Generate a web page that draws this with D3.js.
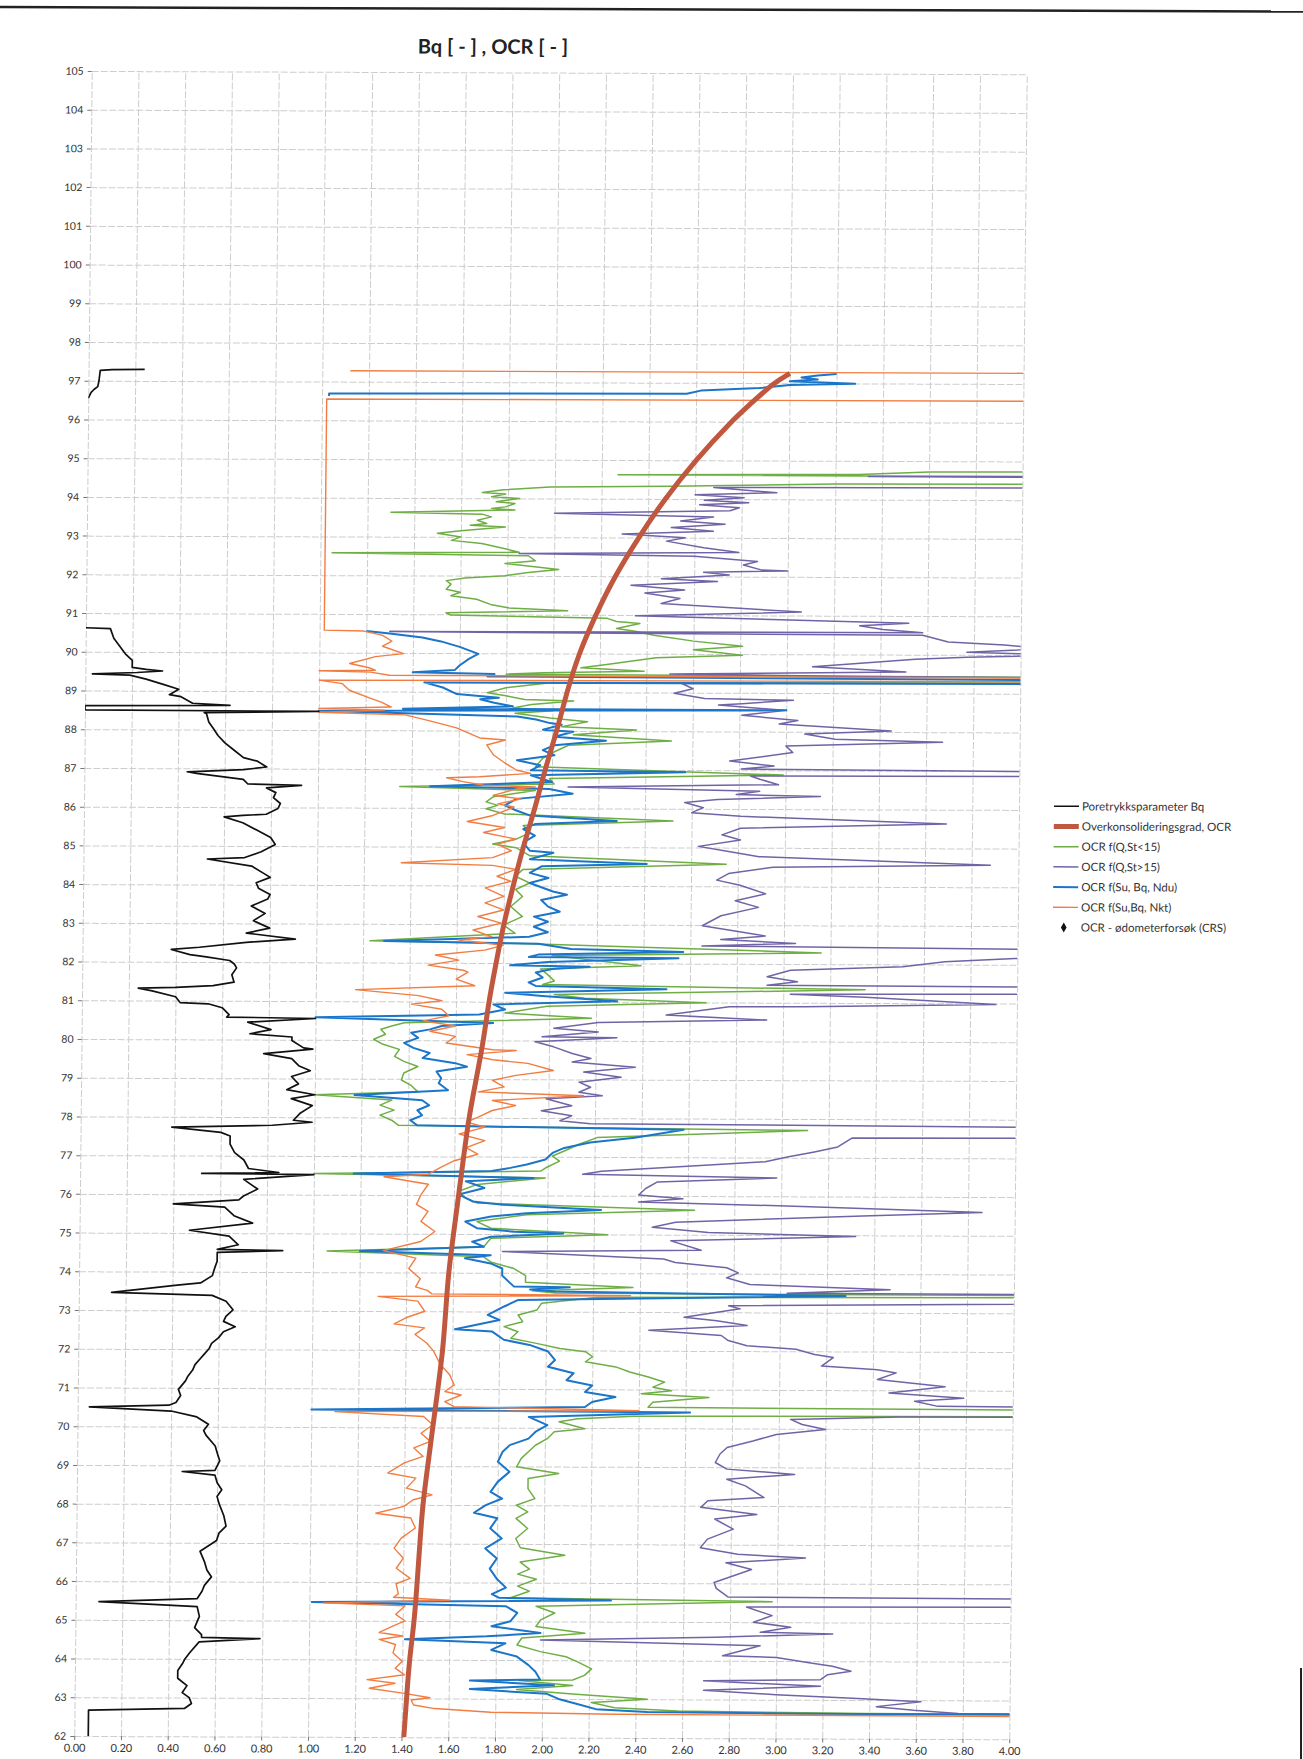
<!DOCTYPE html>
<html>
<head>
<meta charset="utf-8">
<script src="https://cdn.jsdelivr.net/npm/d3@7"></script>
<style>
  body { margin: 0; background: #fff; }
  text { font-family: Lato, "Open Sans", sans-serif; fill: #333; }
  .grid line { stroke: #cdcdcd; stroke-dasharray: 7,2; }
  .grid path { display: none; }
  .axis path { display: none; }
  .axis line { stroke: #777; }
  .axis text { font-size: 11px; fill: #333; }
  .yaxis text { font-size: 10.5px; }
</style>
</head>
<body>
<div id="chart"></div>
<script>
// ---- chart values (elevation [m], value) ; null = gap in the series ----
var titleText = "Bq [ - ] , OCR [ - ]";

var yTicks = [62,63,64,65,66,67,68,69,70,71,72,73,74,75,76,77,78,79,80,81,82,83,
  84,85,86,87,88,89,90,91,92,93,94,95,96,97,98,99,100,101,102,103,104,105];
var xTicks = [0,0.2,0.4,0.6,0.8,1.0,1.2,1.4,1.6,1.8,2.0,2.2,2.4,2.6,2.8,3.0,3.2,3.4,3.6,3.8,4.0];

var legendLabels = ["Poretrykksparameter Bq", "Overkonsolideringsgrad, OCR", "OCR f(Q,St<15)",
  "OCR f(Q,St>15)", "OCR f(Su, Bq, Ndu)", "OCR f(Su,Bq, Nkt)", "OCR - ødometerforsøk (CRS)"];

// Poretrykksparameter Bq
var bqData = [
  [97.30,0.24],[97.29,0.10],[97.27,0.05],[97.00,0.045],[96.85,0.04],[96.78,0.025],[96.70,0.012],[96.55,0.0],
  null,
  [90.62,0.0],[90.60,0.105],[90.35,0.12],[90.15,0.145],[89.95,0.17],[89.78,0.20],[89.60,0.20],[89.55,0.26],
  [89.51,0.33],[89.47,0.22],[89.43,0.03],[89.40,0.19],[89.30,0.26],[89.17,0.33],[89.04,0.40],[88.90,0.36],
  [88.85,0.41],[88.68,0.46],[88.63,0.62],[88.61,0.0],[88.50,0.0],[88.48,1.0],[88.44,0.51],[88.41,0.52],
  [88.20,0.53],[88.03,0.55],[87.85,0.57],[87.66,0.60],[87.47,0.64],[87.28,0.68],[87.19,0.74],[87.04,0.78],
  [86.97,0.68],[86.91,0.44],[86.87,0.48],[86.72,0.68],[86.60,0.70],[86.57,0.93],[86.50,0.78],[86.38,0.82],
  [86.25,0.81],[86.10,0.84],[85.97,0.83],[85.82,0.78],[85.79,0.68],[85.75,0.60],[85.60,0.68],[85.41,0.74],
  [85.22,0.80],[85.04,0.82],[84.85,0.76],[84.70,0.69],[84.66,0.53],[84.48,0.72],[84.30,0.77],[84.19,0.80],
  [84.05,0.74],[83.91,0.75],[83.75,0.80],[83.63,0.79],[83.45,0.72],[83.26,0.78],[83.07,0.73],[82.88,0.80],
  [82.75,0.70],[82.60,0.91],[82.51,0.70],[82.38,0.50],[82.32,0.38],[82.19,0.46],[82.13,0.53],[82.04,0.63],
  [81.95,0.65],[81.85,0.66],[81.67,0.64],[81.48,0.65],[81.39,0.56],[81.34,0.40],[81.32,0.24],[81.25,0.30],
  [81.10,0.40],[80.95,0.42],[80.92,0.54],[80.82,0.60],[80.64,0.63],[80.58,0.62],[80.55,1.0],[80.45,0.71],
  [80.26,0.81],[80.15,0.72],[80.07,0.90],[79.98,0.90],[79.79,0.95],[79.76,0.99],[79.64,0.78],[79.51,0.90],
  [79.33,0.93],[79.20,0.98],[79.05,0.90],[78.86,0.93],[78.71,0.88],[78.58,1.0],[78.48,0.90],[78.30,0.99],
  [78.11,0.94],[77.92,0.91],[77.87,0.99],[77.79,0.82],[77.73,0.39],[77.60,0.60],[77.51,0.64],[77.30,0.64],
  [77.08,0.66],[76.89,0.70],[76.67,0.72],[76.57,0.85],[76.54,0.52],[76.52,1.0],[76.39,0.70],[76.14,0.76],
  [75.96,0.70],[75.86,0.68],[75.75,0.40],[75.67,0.62],[75.45,0.66],[75.26,0.74],[75.07,0.47],[74.92,0.64],
  [74.70,0.68],[74.58,0.59],[74.55,0.87],[74.50,0.59],[74.27,0.59],[74.10,0.58],[73.90,0.57],[73.71,0.52],
  [73.65,0.42],[73.46,0.14],[73.39,0.57],[73.24,0.63],[73.02,0.66],[72.85,0.63],[72.72,0.62],[72.58,0.67],
  [72.45,0.62],[72.30,0.60],[72.15,0.57],[72.02,0.56],[71.88,0.54],[71.74,0.52],[71.60,0.50],[71.46,0.49],
  [71.30,0.47],[71.18,0.46],[70.96,0.43],[70.80,0.44],[70.62,0.42],[70.55,0.39],[70.50,0.05],[70.40,0.40],
  [70.25,0.51],[70.06,0.56],[69.90,0.54],[69.78,0.55],[69.50,0.59],[69.30,0.60],[69.12,0.61],[68.87,0.59],
  [68.84,0.45],[68.75,0.59],[68.55,0.60],[68.37,0.62],[68.20,0.60],[68.00,0.61],[67.70,0.63],[67.43,0.64],
  [67.25,0.61],[67.06,0.60],[66.78,0.53],[66.50,0.55],[66.30,0.56],[66.12,0.58],[65.90,0.55],[65.75,0.54],
  [65.56,0.52],[65.47,0.10],[65.35,0.52],[65.10,0.53],[64.81,0.51],[64.63,0.54],[64.56,0.54],[64.53,0.79],
  [64.44,0.53],[64.16,0.49],[64.00,0.47],[63.88,0.46],[63.70,0.44],[63.50,0.44],[63.31,0.48],[63.13,0.46],
  [63.00,0.49],[62.85,0.50],[62.72,0.47],[62.67,0.06],[62.00,0.06]
];

// Overkonsolideringsgrad, OCR
var ocrData = [
  [97.25,3.00],[97.0,2.93],[96.5,2.84],[96.0,2.75],[95.0,2.60],[94.0,2.47],[93.0,2.36],[92.0,2.26],
  [91.0,2.18],[90.0,2.11],[89.0,2.06],[88.0,2.02],[87.0,1.97],[86.0,1.93],[85.0,1.88],[84.0,1.84],
  [83.0,1.80],[82.0,1.77],[81.0,1.74],[80.0,1.72],[79.0,1.69],[78.0,1.66],[77.0,1.64],[76.0,1.62],
  [75.0,1.60],[74.0,1.58],[73.0,1.57],[72.0,1.56],[71.0,1.54],[70.0,1.52],[69.0,1.50],[68.0,1.48],
  [67.0,1.47],[66.0,1.46],[65.0,1.45],[64.0,1.43],[63.0,1.42],[62.0,1.41]
];

// OCR f(Q,St<15)
var stLowData = [
  [94.80,7],[94.72,3.6],[94.65,3.3],[94.62,2.27],[94.58,7],[94.45,7],[94.40,3.2],[94.33,2.5],[94.30,1.98],
  [94.22,1.78],[94.15,1.69],[94.11,1.79],[94.04,1.73],[94.00,1.85],[93.91,1.75],[93.87,1.83],[93.78,1.79],
  [93.74,1.73],[93.70,1.83],[93.63,1.30],[93.59,1.69],[93.52,1.73],[93.43,1.67],[93.35,1.71],[93.30,1.64],
  [93.26,1.79],[93.16,1.60],[93.09,1.50],[93.00,1.60],[92.91,1.56],[92.83,1.69],[92.70,1.79],[92.61,1.85],
  [92.58,1.05],[92.52,1.89],[92.39,1.92],[92.32,1.79],[92.17,2.02],[92.09,1.89],[92.00,1.79],[91.94,1.62],
  [91.87,1.54],[91.78,1.56],[91.65,1.54],[91.57,1.60],[91.48,1.56],[91.39,1.67],[91.26,1.73],[91.17,1.81],
  [91.10,2.06],[91.04,1.54],[90.98,1.56],[90.91,2.23],[90.83,2.27],[90.78,2.37],[90.65,2.27],[90.58,2.35],
  [90.48,2.43],[90.33,2.60],[90.20,2.81],[90.11,2.60],[89.97,2.81],[89.90,2.44],[89.72,2.23],[89.63,2.12],
  [89.55,2.39],[89.50,1.96],[89.46,1.80],[89.38,7],[89.33,7],[89.24,1.99],[89.11,1.80],[88.98,1.72],
  [88.90,1.80],[88.81,1.88],[88.77,2.09],[88.68,1.91],[88.59,1.83],[88.52,2.00],[88.45,1.84],[88.33,1.99],
  [88.24,2.15],[88.11,2.04],[88.03,2.36],[87.90,2.09],[87.75,2.51],[87.63,2.07],[87.46,2.01],[87.29,1.96],
  [87.07,1.93],[86.88,2.99],[86.77,1.99],[86.63,2.01],[86.55,1.35],[86.46,1.93],[86.29,1.75],[86.16,1.72],
  [86.07,1.77],[85.98,1.72],[85.85,1.80],[85.68,2.52],[85.55,1.88],[85.37,1.91],[85.20,1.85],[85.07,1.75],
  [84.98,1.85],[84.77,1.91],[84.57,2.75],[84.42,1.88],[84.24,1.85],[84.07,1.91],[83.90,1.85],[83.72,1.88],
  [83.46,1.83],[83.20,1.88],[82.98,1.80],[82.77,1.85],[82.56,1.23],[82.50,1.91],[82.29,3.16],[82.20,2.01],
  [81.94,2.39],[81.85,1.96],[81.71,1.99],[81.54,2.02],[81.45,1.97],[81.34,3.35],[81.19,2.02],[81.10,2.15],
  [80.99,2.67],[80.89,1.99],[80.71,1.81],[80.58,2.18],[80.45,1.38],[80.37,1.33],[80.28,1.28],[80.15,1.30],
  [80.02,1.25],[79.89,1.29],[79.76,1.36],[79.58,1.34],[79.45,1.38],[79.32,1.44],[79.15,1.38],[78.97,1.37],
  [78.84,1.41],[78.67,1.44],[78.58,1.00],[78.45,1.33],[78.32,1.28],[78.19,1.34],[78.06,1.28],[77.93,1.33],
  [77.80,1.36],[77.70,3.11],[77.50,2.21],[77.32,2.13],[77.15,2.07],[77.02,2.02],[76.89,2.05],[76.71,1.99],
  [76.63,1.97],[76.55,1.00],[76.45,1.99],[76.28,1.70],[76.10,1.62],[75.93,1.65],[75.80,1.70],[75.63,2.63],
  [75.50,1.91],[75.32,1.70],[75.15,1.76],[74.99,2.26],[74.89,1.76],[74.67,1.73],[74.55,1.06],[74.41,1.73],
  [74.28,1.76],[74.11,1.86],[73.93,1.91],[73.76,1.91],[73.63,2.37],[73.54,1.94],[73.48,2.04],[73.43,7],
  [73.38,2.22],[73.22,1.98],[73.04,1.96],[72.91,1.88],[72.74,1.90],[72.61,1.82],[72.48,1.88],[72.31,1.85],
  [72.18,1.96],[72.05,2.06],[71.97,2.17],[71.84,2.20],[71.71,2.17],[71.58,2.30],[71.45,2.36],[71.32,2.44],
  [71.19,2.51],[71.06,2.46],[70.97,2.54],[70.89,2.41],[70.80,2.70],[70.67,2.46],[70.54,2.44],[70.43,7],
  [70.37,7],[70.31,2.38],[70.24,2.14],[70.16,2.06],[69.98,2.17],[69.90,2.04],[69.72,2.01],[69.55,1.96],
  [69.38,1.93],[69.21,1.90],[68.99,1.88],[68.82,2.06],[68.69,1.93],[68.43,1.93],[68.17,1.96],[68.00,1.88],
  [67.83,1.93],[67.66,1.88],[67.40,1.93],[67.14,1.88],[66.90,1.90],[66.71,2.09],[66.53,1.90],[66.35,1.94],
  [66.22,1.89],[66.09,1.97],[65.91,1.89],[65.78,1.94],[65.61,1.86],[65.53,2.98],[65.39,1.97],[65.22,2.05],
  [65.04,1.99],[64.87,1.97],[64.70,2.18],[64.57,1.91],[64.39,1.89],[64.22,1.99],[64.09,2.10],[63.96,2.15],
  [63.78,2.21],[63.61,2.18],[63.49,2.13],[63.47,1.90],[63.35,2.13],[63.24,1.89],[63.13,2.13],[63.00,2.45],
  [62.91,2.21],[62.78,2.31],[62.70,2.58],[62.65,3.38],[62.64,4.6]
];

// OCR f(Q,St>15)
var stHighData = [
  [94.66,7],[94.60,3.34],[94.55,7],[94.35,7],[94.30,2.68],[94.17,2.95],[94.11,2.60],[94.04,2.81],[93.97,2.64],
  [93.91,2.83],[93.85,2.62],[93.78,2.79],[93.70,2.75],[93.62,2.00],[93.54,2.68],[93.43,2.54],[93.35,2.73],
  [93.26,2.50],[93.17,2.68],[93.09,2.29],[93.00,2.56],[92.91,2.48],[92.74,2.64],[92.62,2.79],[92.58,1.85],
  [92.52,2.60],[92.39,2.87],[92.30,2.81],[92.17,2.89],[92.15,3.00],[92.11,2.64],[92.04,2.75],[91.94,2.46],
  [91.87,2.70],[91.77,2.33],[91.65,2.56],[91.57,2.39],[91.43,2.54],[91.30,2.46],[91.09,3.06],[90.98,2.35],
  [90.81,3.52],[90.74,3.31],[90.65,3.41],[90.57,3.58],[90.55,1.30],[90.50,3.58],[90.33,3.69],[90.26,3.93],
  [90.16,4.10],[90.07,3.77],[90.00,4.20],[89.94,3.77],[89.88,3.55],[89.68,3.11],[89.55,3.51],[89.48,2.50],
  [89.43,3.30],[89.39,7],[89.30,7],[89.24,2.55],[89.10,2.60],[88.98,2.52],[88.85,2.65],[88.81,3.03],
  [88.72,2.81],[88.68,2.71],[88.55,3.00],[88.42,2.81],[88.29,3.05],[88.20,2.97],[88.03,3.45],[87.94,3.08],
  [87.81,3.21],[87.74,3.67],[87.63,3.00],[87.46,3.03],[87.24,2.76],[87.11,2.95],[87.03,2.81],[86.90,7],
  [86.85,2.85],[86.77,2.89],[86.63,2.97],[86.55,2.07],[86.46,2.89],[86.37,2.79],[86.33,3.15],[86.24,2.71],
  [86.16,2.57],[86.03,2.65],[85.90,2.60],[85.81,2.81],[85.63,3.69],[85.50,2.81],[85.33,2.73],[85.20,2.81],
  [85.03,2.63],[84.90,2.76],[84.77,2.89],[84.57,3.88],[84.50,2.95],[84.33,2.76],[84.16,2.71],[84.03,2.81],
  [83.81,2.92],[83.63,2.79],[83.46,2.89],[83.24,2.73],[82.98,2.65],[82.85,2.79],[82.72,2.92],[82.63,2.73],
  [82.53,3.05],[82.46,2.65],[82.27,7],[82.20,7],[82.16,3.99],[82.07,3.69],[81.94,3.51],[81.84,3.03],
  [81.67,2.93],[81.54,3.06],[81.45,2.93],[81.36,7],[81.30,7],[81.22,3.03],[81.15,3.35],[80.97,3.91],
  [80.90,3.09],[80.89,2.77],[80.67,2.50],[80.55,2.93],[80.47,2.21],[80.32,2.02],[80.23,2.21],[80.10,1.97],
  [80.08,2.29],[79.97,1.94],[79.84,2.02],[79.67,2.10],[79.54,2.18],[79.45,2.10],[79.32,2.37],[79.19,2.15],
  [79.06,2.31],[78.93,2.13],[78.80,2.18],[78.67,2.13],[78.58,2.23],[78.50,1.99],[78.32,2.10],[78.19,1.97],
  [78.06,2.10],[77.93,2.05],[77.86,2.18],[77.72,7],[77.58,7],[77.51,3.30],[77.28,3.24],[77.15,3.14],
  [77.02,3.03],[76.89,2.93],[76.80,2.69],[76.63,2.23],[76.55,2.15],[76.47,2.98],[76.36,2.47],[76.19,2.42],
  [76.02,2.39],[75.93,2.58],[75.84,2.39],[75.74,3.09],[75.60,3.86],[75.50,3.35],[75.32,2.55],[75.19,2.45],
  [75.06,2.69],[74.97,3.32],[74.84,2.53],[74.60,2.66],[74.55,1.81],[74.37,2.50],[74.28,2.55],[74.15,2.77],
  [74.02,2.82],[73.89,2.77],[73.72,2.87],[73.60,3.47],[73.50,3.03],[73.44,7],[73.38,7],[73.17,2.78],
  [73.09,2.83],[72.87,2.59],[72.78,2.73],[72.66,2.86],[72.53,2.44],[72.40,2.75],[72.27,2.78],[72.14,2.86],
  [72.05,3.07],[71.92,3.15],[71.84,3.23],[71.62,3.18],[71.53,3.42],[71.45,3.50],[71.28,3.42],[71.15,3.63],
  [71.10,3.71],[70.93,3.47],[70.80,3.79],[70.72,3.58],[70.59,3.68],[70.50,7],[70.37,7],[70.31,3.52],
  [70.24,3.05],[70.11,3.10],[69.98,3.20],[69.85,2.99],[69.68,2.89],[69.51,2.78],[69.34,2.75],[69.12,2.73],
  [68.95,2.78],[68.82,3.07],[68.69,2.78],[68.52,2.86],[68.22,2.94],[68.13,2.70],[67.96,2.67],[67.78,2.91],
  [67.66,2.73],[67.40,2.81],[67.14,2.70],[66.92,2.67],[66.75,2.83],[66.66,3.12],[66.53,2.78],[66.36,2.89],
  [66.19,2.81],[66.02,2.73],[65.87,2.74],[65.65,2.79],[65.55,7],[65.45,7],[65.39,2.87],[65.17,2.98],
  [65.00,2.90],[64.87,3.06],[64.74,2.93],[64.70,3.24],[64.61,2.74],[64.52,1.99],[64.39,2.93],[64.26,2.85],
  [64.13,2.77],[64.09,3.00],[63.96,3.14],[63.87,3.24],[63.74,3.32],[63.65,3.22],[63.52,3.19],[63.48,2.69],
  [63.35,3.19],[63.24,2.69],[63.13,3.00],[63.04,3.35],[62.96,3.62],[62.83,3.43],[62.74,3.59],[62.66,3.78],
  [62.64,4.6]
];

// OCR f(Su, Bq, Ndu)
var nduData = [
  [97.24,3.20],[97.20,3.12],[97.15,3.05],[97.10,3.12],[97.05,3.00],[96.99,3.28],[96.95,3.00],[96.87,2.87],
  [96.80,2.62],[96.72,2.56],[96.69,1.03],[96.63,1.03],
  null,
  [90.56,1.20],[90.50,1.30],[90.40,1.44],[90.30,1.52],
  [90.16,1.60],[89.98,1.68],[89.85,1.64],[89.68,1.60],[89.56,1.58],[89.50,1.40],[89.46,1.75],[89.40,1.72],
  [89.30,7],[89.26,7],[89.24,1.45],[89.11,1.53],[88.94,1.59],[88.85,1.77],[88.81,1.69],[88.72,1.75],
  [88.63,1.83],[88.56,1.36],[88.55,3.00],[88.50,1.00],[88.37,1.85],[88.29,1.93],[88.20,1.99],[88.16,2.04],
  [88.03,1.96],[87.98,2.09],[87.85,2.01],[87.75,2.23],[87.63,2.01],[87.50,1.96],[87.37,2.01],[87.24,1.85],
  [87.11,1.95],[86.98,1.91],[86.94,2.57],[86.85,1.91],[86.68,2.00],[86.56,1.48],[86.50,1.99],[86.38,2.09],
  [86.24,1.85],[86.07,1.80],[85.94,1.85],[85.81,1.91],[85.68,2.28],[85.59,1.93],[85.46,1.88],[85.29,1.93],
  [85.11,1.88],[84.90,1.91],[84.85,2.01],[84.68,1.91],[84.57,2.41],[84.50,1.96],[84.33,1.91],[84.20,1.99],
  [84.07,1.91],[83.85,2.01],[83.77,2.07],[83.63,1.96],[83.46,1.99],[83.33,2.04],[83.20,1.93],[83.07,1.99],
  [82.94,1.93],[82.80,1.99],[82.68,1.91],[82.56,1.29],[82.50,1.95],[82.37,2.09],[82.30,2.57],[82.22,1.95],
  [82.16,1.91],[82.14,2.55],[82.03,1.99],[81.94,1.83],[81.91,2.17],[81.85,2.01],[81.76,1.94],[81.63,1.97],
  [81.50,1.91],[81.41,1.94],[81.34,2.50],[81.23,1.81],[81.15,1.97],[81.02,2.29],[80.93,1.76],[80.80,1.81],
  [80.67,1.70],[80.58,1.00],[80.45,1.76],[80.37,1.54],[80.28,1.49],[80.19,1.41],[80.06,1.44],[79.93,1.38],
  [79.80,1.42],[79.67,1.49],[79.54,1.46],[79.41,1.60],[79.32,1.65],[79.19,1.52],[79.02,1.54],[78.89,1.53],
  [78.71,1.57],[78.58,1.17],[78.45,1.46],[78.32,1.49],[78.19,1.44],[78.06,1.46],[77.93,1.41],[77.80,1.44],
  [77.71,2.58],[77.50,2.37],[77.37,2.18],[77.23,2.07],[77.10,2.02],[76.93,1.99],[76.80,1.91],[76.71,1.84],
  [76.63,1.76],[76.55,1.17],[76.45,1.94],[76.36,1.65],[76.19,1.73],[76.02,1.62],[75.84,1.68],[75.76,1.81],
  [75.63,2.23],[75.54,1.91],[75.45,1.76],[75.32,1.65],[75.15,1.70],[75.06,1.86],[75.02,2.07],[74.93,1.76],
  [74.80,1.68],[74.67,1.73],[74.55,1.20],[74.45,1.76],[74.37,1.65],[74.24,1.76],[74.11,1.81],[73.93,1.81],
  [73.76,1.84],[73.65,1.86],[73.63,2.10],[73.57,1.93],[73.52,2.04],[73.43,3.28],[73.30,1.88],[73.13,1.82],
  [72.91,1.75],[72.78,1.80],[72.54,1.61],[72.48,1.77],[72.27,1.82],[72.14,1.93],[71.97,2.01],[71.75,2.04],
  [71.58,2.01],[71.41,2.12],[71.23,2.09],[71.10,2.20],[70.93,2.17],[70.80,2.30],[70.67,2.20],[70.54,2.17],
  [70.45,1.00],[70.41,2.62],[70.28,1.93],[70.07,2.01],[69.90,1.96],[69.72,1.93],[69.55,1.85],[69.38,1.82],
  [69.12,1.80],[68.86,1.85],[68.60,1.80],[68.34,1.77],[68.17,1.82],[68.00,1.75],[67.80,1.70],[67.66,1.80],
  [67.40,1.77],[67.14,1.82],[66.88,1.75],[66.62,1.80],[66.36,1.77],[66.10,1.80],[65.87,1.84],[65.70,1.78],
  [65.61,1.81],[65.55,2.29],[65.48,1.01],[65.39,1.84],[65.22,1.89],[65.00,1.86],[64.87,1.78],[64.70,1.99],
  [64.61,1.76],[64.53,1.41],[64.43,1.84],[64.26,1.78],[64.09,1.89],[63.87,1.94],[63.70,1.97],[63.50,1.99],
  [63.47,1.69],[63.35,2.05],[63.25,1.69],[63.13,2.02],[63.00,2.07],[62.87,2.15],[62.74,2.23],[62.67,2.45],
  [62.64,3.11],[62.63,4.6]
];

// OCR f(Su,Bq, Nkt)
var nktData = [
  [97.28,1.12],[97.27,7],[96.56,7],[96.55,1.02],[90.58,1.02],[90.56,1.19],[90.45,1.27],[90.30,1.31],
  [90.17,1.27],[89.98,1.36],[89.90,1.24],[89.72,1.13],[89.62,1.21],[89.55,1.24],[89.53,1.00],[89.50,1.22],
  [89.42,1.30],[89.39,7],[89.33,7],[89.29,1.00],[89.20,1.10],[89.03,1.13],[88.85,1.21],[88.72,1.27],
  [88.60,1.31],[88.56,1.00],[88.52,1.28],[88.46,1.00],[88.40,1.37],[88.24,1.48],[88.07,1.59],[87.94,1.64],
  [87.81,1.69],[87.76,1.80],[87.63,1.72],[87.37,1.75],[87.16,1.80],[86.98,1.85],[86.90,1.91],[86.81,1.69],
  [86.78,1.55],[86.68,1.62],[86.59,1.71],[86.55,1.93],[86.50,1.85],[86.33,1.75],[86.24,1.87],[86.11,1.77],
  [86.03,1.84],[85.81,1.75],[85.65,1.64],[85.50,1.80],[85.37,1.71],[85.20,1.85],[85.07,1.77],[84.90,1.83],
  [84.72,1.75],[84.58,1.36],[84.52,1.75],[84.42,1.85],[84.24,1.77],[84.11,1.83],[83.94,1.72],[83.72,1.80],
  [83.55,1.72],[83.37,1.80],[83.20,1.69],[83.03,1.79],[82.85,1.67],[82.68,1.75],[82.59,1.61],[82.46,1.80],
  [82.33,1.72],[82.20,1.51],[82.07,1.61],[81.94,1.48],[81.81,1.63],[81.76,1.65],[81.58,1.60],[81.41,1.68],
  [81.30,1.17],[81.15,1.44],[81.02,1.54],[80.93,1.41],[80.80,1.54],[80.63,1.57],[80.50,1.46],[80.37,1.60],
  [80.23,1.49],[80.10,1.60],[79.93,1.56],[79.76,1.76],[79.74,1.86],[79.63,1.65],[79.50,1.76],[79.41,1.91],
  [79.23,2.02],[79.10,1.86],[78.97,1.76],[78.80,1.81],[78.67,1.70],[78.58,2.15],[78.45,1.76],[78.32,1.86],
  [78.19,1.76],[78.02,1.70],[77.89,1.65],[77.76,1.73],[77.58,1.62],[77.41,1.73],[77.23,1.65],[77.06,1.70],
  [76.89,1.60],[76.71,1.54],[76.54,1.49],[76.47,1.30],[76.28,1.49],[76.02,1.46],[75.76,1.44],[75.58,1.49],
  [75.32,1.46],[75.06,1.52],[74.80,1.46],[74.56,1.30],[74.37,1.44],[74.10,1.41],[73.84,1.46],[73.63,1.44],
  [73.54,1.49],[73.45,1.51],[73.42,2.36],[73.38,1.28],[73.26,1.45],[73.00,1.48],[72.83,1.40],[72.67,1.35],
  [72.57,1.48],[72.40,1.44],[72.18,1.49],[71.97,1.52],[71.62,1.55],[71.36,1.59],[71.10,1.61],[70.93,1.57],
  [70.84,1.64],[70.67,1.57],[70.54,1.61],[70.45,2.40],[70.40,1.10],[70.28,1.48],[70.07,1.52],[69.85,1.47],
  [69.64,1.51],[69.47,1.44],[69.25,1.48],[69.08,1.40],[68.82,1.33],[68.69,1.45],[68.43,1.41],[68.26,1.52],
  [68.13,1.44],[67.96,1.40],[67.78,1.28],[67.66,1.43],[67.40,1.45],[67.14,1.39],[66.88,1.36],[66.62,1.40],
  [66.36,1.37],[66.10,1.43],[65.96,1.37],[65.70,1.38],[65.61,1.36],[65.54,1.60],[65.46,1.06],[65.39,1.41],
  [65.17,1.37],[65.00,1.41],[64.87,1.36],[64.70,1.30],[64.61,1.40],[64.52,1.30],[64.39,1.37],[64.17,1.36],
  [63.96,1.40],[63.78,1.37],[63.61,1.41],[63.48,1.25],[63.39,1.37],[63.26,1.26],[63.13,1.41],[63.02,1.52],
  [62.96,1.44],[62.83,1.45],[62.74,1.54],[62.65,1.78],[62.61,2.31],[62.58,4.6]
];

// ---- drawing ----
var svgWidth = 1303;
var svgHeight = 1759;

var plot = { left: 83, right: 1018, top: 72.6, bottom: 1737.6 };

var svg = d3.select("#chart")
  .append("svg")
  .attr("width", svgWidth)
  .attr("height", svgHeight);

svg.append("rect")
  .attr("width", svgWidth)
  .attr("height", svgHeight)
  .attr("fill", "#fff");

// the scanned sheet is slightly skewed: verticals lean ~0.6 deg, horizontals ~0.2 deg
var page = svg.append("g")
  .attr("transform", "matrix(1, 0.0035, -0.0105, 1, 9.48, -1.93)");

// rule at the top of the sheet
page.append("line")
  .attr("x1", -40).attr("x2", 1345)
  .attr("y1", 9).attr("y2", 9)
  .attr("stroke", "#222")
  .attr("stroke-width", 2.5);

var xScale = d3.scaleLinear().domain([0, 4]).range([plot.left, plot.right]);
var yScale = d3.scaleLinear().domain([62, 105]).range([plot.bottom, plot.top]);

// grid
page.append("g")
  .attr("class", "grid")
  .attr("transform", `translate(0, ${plot.bottom})`)
  .call(d3.axisBottom(xScale).tickValues(xTicks).tickSize(-(plot.bottom - plot.top)).tickFormat(""));

page.append("g")
  .attr("class", "grid")
  .attr("transform", `translate(${plot.left}, 0)`)
  .call(d3.axisLeft(yScale).tickValues(yTicks).tickSize(-(plot.right - plot.left)).tickFormat(""));

// axes
page.append("g")
  .attr("class", "axis yaxis")
  .attr("transform", `translate(${plot.left}, 0)`)
  .call(d3.axisLeft(yScale).tickValues(yTicks).tickSize(4).tickPadding(4).tickFormat(d3.format("d")));

page.append("g")
  .attr("class", "axis")
  .attr("transform", `translate(0, ${plot.bottom})`)
  .call(d3.axisBottom(xScale).tickValues(xTicks).tickSize(4).tickPadding(4).tickFormat(d3.format(".2f")));

// title
page.append("text")
  .attr("x", 484)
  .attr("y", 54)
  .attr("text-anchor", "middle")
  .attr("font-size", "20px")
  .attr("font-weight", "bold")
  .style("fill", "#222")
  .text(titleText);

// clip lines to the plot area
page.append("clipPath")
  .attr("id", "plotClip")
  .append("rect")
  .attr("x", plot.left)
  .attr("y", plot.top)
  .attr("width", plot.right - plot.left)
  .attr("height", plot.bottom - plot.top);

var lineGen = d3.line()
  .defined(d => d !== null)
  .x(d => xScale(d[1]))
  .y(d => yScale(d[0]));

var series = [
  { data: stLowData, color: "#6fae45", width: 1.5 },
  { data: stHighData, color: "#7164a6", width: 1.5 },
  { data: nduData, color: "#1b75c9", width: 2 },
  { data: nktData, color: "#f27d42", width: 1.4 },
  { data: bqData, color: "#111", width: 1.7 }
];

var linesGroup = page.append("g").attr("clip-path", "url(#plotClip)");

series.forEach(function(s) {
  linesGroup.append("path")
    .datum(s.data)
    .attr("fill", "none")
    .attr("stroke", s.color)
    .attr("stroke-width", s.width)
    .attr("stroke-linejoin", "round")
    .attr("d", lineGen);
});

// thick OCR curve on top, smoothed
linesGroup.append("path")
  .datum(ocrData)
  .attr("fill", "none")
  .attr("stroke", "#c0583f")
  .attr("stroke-width", 5)
  .attr("d", lineGen.curve(d3.curveBasis));

// legend
var legendColors = ["#111", "#c0583f", "#6fae45", "#7164a6", "#1b75c9", "#f27d42", "#111"];
var legendWidths = [1.5, 5, 1.5, 1.5, 2, 1.4, 0];

var legend = page.append("g").attr("transform", "translate(1053, 804.5)");

legendLabels.forEach(function(label, i) {
  var row = legend.append("g").attr("transform", `translate(0, ${i * 20.2})`);
  if (i < 6) {
    row.append("line")
      .attr("x1", 0).attr("x2", 25)
      .attr("stroke", legendColors[i])
      .attr("stroke-width", legendWidths[i]);
  } else {
    row.append("path")
      .attr("d", d3.symbol(d3.symbolDiamond).size(28))
      .attr("transform", "translate(11, 0)")
      .attr("fill", "#111");
  }
  row.append("text")
    .attr("x", 28)
    .attr("dy", "0.35em")
    .attr("font-size", "11.5px")
    .text(label);
});

// edge of the scanned sheet, bottom right
svg.append("line")
  .attr("x1", 1301).attr("x2", 1301)
  .attr("y1", 1668).attr("y2", 1759)
  .attr("stroke", "#222")
  .attr("stroke-width", 2);
</script>
</body>
</html>
